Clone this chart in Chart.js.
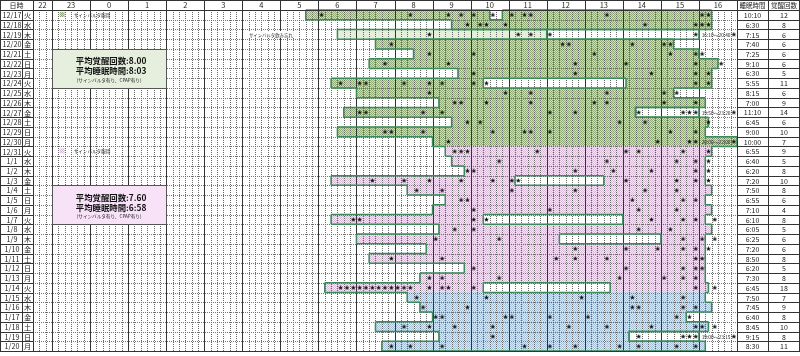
<!DOCTYPE html>
<html>
<head>
<meta charset="utf-8">
<script src="https://cdn.jsdelivr.net/npm/chart.js@4.4.0/dist/chart.umd.min.js"></script>
<style>
  html, body { margin: 0; padding: 0; background: #fff; }
  #wrap { width: 800px; height: 356px; position: relative; }
</style>
</head>
<body>
<div id="wrap"><canvas id="c"></canvas></div>
<script>
// rows
const days = ['12/17','12/18','12/19','12/20','12/21','12/22','12/23','12/24','12/25','12/26','12/27','12/28','12/29','12/30','12/31',
              '1/1','1/2','1/3','1/4','1/5','1/6','1/7','1/8','1/9','1/10','1/11','1/12','1/13','1/14','1/15','1/16','1/17','1/18','1/19','1/20'];
const weekdays = ['火','水','木','金','土','日','月','火','水','木','金','土','日','月','火',
                  '水','木','金','土','日','月','火','水','木','金','土','日','月','火','水','木','金','土','日','月'];
const sleepTimes = ['10:10','6:30','7:15','7:40','7:25','9:10','6:30','5:55','8:15','7:00','11:10','6:45','9:00','10:00','6:55',
                    '6:40','6:20','7:20','7:50','6:55','7:10','6:10','6:05','6:25','7:20','8:50','6:20','7:30','6:45','7:50','7:45','6:40','8:45','9:15','8:30'];
const wakeCounts = [12,8,6,6,6,6,5,11,6,9,14,6,10,7,9, 5,8,10,8,6,4,8,5,6,6,8,5,8,18,7,9,8,10,8,11];
// period of each row: 0 green, 1 pink, 2 blue
const rowPeriod = [0,0,0,0,0,0,0,0,0,0,0,0,0,0, 1,1,1,1,1,1,1,1,1,1,1,1,1,1,1, 2,2,2,2,2,2];

// time axis (hours, 22 -> 16)
const hourTicks = [22,23,0,1,2,3,4,5,6,7,8,9,10,11,12,13,14,15,16];

// sleep segments (first / second)
const sleepA = [['5:40','10:30'],['9:30','16:20'],null,['7:30','15:20'],['8:30','16:00'],['7:20','16:30'],['9:40','16:20'],['6:20','10:20'],
  ['7:00','15:20'],['9:10','16:10'],['6:40','14:20'],['9:30','16:15'],['6:30','16:10'],['9:00','17:00'],['9:20','16:20'],
  ['9:30','16:10'],['9:50','16:10'],['6:20','11:10'],['8:20','16:20'],['9:20','16:10'],['9:00','16:20'],['6:20','10:20'],['9:10','16:20'],
  ['7:00','12:20'],['8:50','16:10'],['7:20','16:10'],['9:50','16:10'],['8:40','16:10'],['6:10','10:20'],['8:20','16:10'],['8:40','16:20'],
  ['9:00','15:40'],['7:30','16:15'],['9:10','14:10'],['7:40','16:10']];
const sleepB = [['10:50','16:20'],null,null,null,null,null,null,['14:05','16:20'],null,null,null,null,null,null,null,
  null,null,['13:30','16:10'],null,null,null,['14:00','16:10'],null,['15:00','16:10'],null,null,null,null,['13:40','16:15'],null,null,
  null,null,null,null];
// light (dozing) segment and awake-in-bed boxes
const dozeSeg = days.map((d, i) => i === 2 ? ['6:30','12:00'] : null);
const awakeSeg = days.map((d, i) => ({2: ['12:00','16:00'], 10: ['14:20','16:00'], 33: ['14:10','16:00']})[i] || null);
// evening sleep written as text
const eveningNotes = {2: '16:10〜20:40', 10: '19:50〜23:20', 13: '20:00〜22:00', 33: '19:00〜23:15'};

// awakenings (stars)
const wakeMarks = [
  ['6:05','8:25','9:25','9:45','10:05','10:35','11:05','11:25','11:35','13:35','16:05','16:15'],
  ['9:55','10:15','10:25','10:55','14:35','15:55','16:05','16:15'],
  ['8:55','11:15','11:35','12:05','15:55','16:55'],
  ['7:55','12:25','12:35','14:15','15:05','15:15'],
  ['8:55','10:05','13:15','15:15','15:55','16:05'],
  ['7:45','9:25','12:45','14:05','15:55','16:35'],
  ['10:05','12:45','14:45','15:55','16:15'],
  ['6:35','7:05','7:15','8:15','8:55','9:15','10:05','10:25','15:55','16:15'],
  ['8:55','10:55','11:35','13:35','15:05','15:25'],
  ['9:35','9:45','10:25','11:35','13:15','13:35','15:05','15:55'],
  ['7:05','7:15','8:45','9:15','12:05','12:45','14:25','15:35','15:45','15:55','16:55'],
  ['9:55','10:15','13:55','14:35','16:15'],
  ['7:45','7:55','8:45','10:35','11:25','11:35','12:05','15:15','15:55'],
  ['9:25','14:55','15:45','15:55','16:55'],
  ['9:35','9:45','9:55','11:45','14:05','14:25','15:35','16:15'],
  ['10:45','13:35','15:25','15:55','16:15'],
  ['9:55','10:05','12:45','13:45','14:45','15:55','16:15'],
  ['7:25','8:15','8:55','9:45','10:35','11:05','11:15','14:05','15:25','15:55','16:15'],
  ['8:35','9:15','11:05','12:45','14:35','15:25'],
  ['9:45','9:55','14:15','15:35','15:55'],
  ['10:05','12:05','14:25','15:25'],
  ['6:55','7:05','10:05','10:25','14:45','15:35','15:55','16:25'],
  ['9:35','10:05','14:25','15:15'],
  ['9:05','10:45','15:35','16:05','16:25'],
  ['12:45','14:05','14:55','15:35','15:55','16:15'],
  ['7:55','9:15','12:15','12:45','13:35','15:55','16:05'],
  ['10:05','14:05','15:35','15:55','16:05'],
  ['8:55','9:15','10:45','13:55','15:05','15:35','15:55'],
  ['6:35','6:45','6:55','7:05','7:15','7:25','7:35','7:45','7:55','8:05','8:15','8:25','8:55','9:15','9:25','10:05','15:55','16:25'],
  ['8:35','10:25','12:55','14:15','15:35'],
  ['8:45','9:55','14:15','14:25','15:35','15:55'],
  ['9:05','9:15','10:55','11:05','12:05','13:05','15:25','15:45'],
  ['8:15','8:55','9:35','10:35','12:35','13:35','14:45','15:55','16:05','16:25'],
  ['10:35','14:25','15:35','15:45','15:55','16:55'],
  ['7:55','8:25','9:15','11:25','12:05','12:45','13:55','14:25','15:25','15:55']
];

// summary boxes
const summaries = [
  {rows: [4, 7], fill: '#e6efdd', lines: ['平均覚醒回数:8.00', '平均睡眠時間:8:03', '(サインバルタ有り、CPAP有り)']},
  {rows: [18, 21], fill: '#f8e2f8', lines: ['平均覚醒回数:7.60', '平均睡眠時間:6:58', '(サインバルタ有り、CPAP有り)']}
];

const FONT = '"Noto Sans CJK JP", "Noto Sans", sans-serif';
const toH = s => { const p = s.split(':'); return Number(p[0]) + Number(p[1]) / 60; };
const seg = s => s ? [toH(s[0]), toH(s[1])] : null;

const canvas = document.getElementById('c');
const ctx0 = canvas.getContext('2d');
function hatch(dark, light) {
  const t = document.createElement('canvas');
  t.width = 2; t.height = 2;
  const g = t.getContext('2d');
  g.fillStyle = light; g.fillRect(0, 0, 2, 2);
  g.fillStyle = dark; g.fillRect(0, 0, 1, 1); g.fillRect(1, 1, 1, 1);
  return ctx0.createPattern(t, 'repeat');
}
const periodFill = [hatch('#8faa76', '#d0e0be'), hatch('#d8bcd8', '#f5e6f5'), hatch('#a6c1d7', '#dce8f2')];
const rowFill = rowPeriod.map(p => periodFill[p]);

// star marker
const starImg = document.createElement('canvas');
starImg.width = 5; starImg.height = 5;
(function () {
  const g = starImg.getContext('2d');
  g.fillStyle = '#111';
  g.beginPath();
  for (let k = 0; k < 10; k++) {
    const r = k % 2 === 0 ? 2.6 : 1.1;
    const a = -Math.PI / 2 + k * Math.PI / 5;
    g.lineTo(2.5 + r * Math.cos(a), 2.6 + r * Math.sin(a));
  }
  g.closePath();
  g.fill();
})();

const starPoints = [];
wakeMarks.forEach((list, i) => list.forEach(s => starPoints.push({x: toH(s), y: days[i]})));

const OUTLINE = '#3a8a5a';

function rowBand(chart, i) {
  const a = chart.chartArea, h = (a.bottom - a.top) / days.length;
  return [a.top + i * h, a.top + (i + 1) * h];
}

const sleepLog = {
  id: 'sleepLog',
  beforeDatasetDraw(chart, args) {
    if (args.meta.type !== 'scatter') return;
    const {ctx, chartArea: a, scales: {x}} = chart;
    const px = t => x.getPixelForValue(t);
    ctx.save();
    // grid
    ctx.lineWidth = 1;
    ctx.strokeStyle = '#777';
    ctx.setLineDash([1, 1]);
    for (let i = 1; i < days.length; i++) {
      const yy = Math.round(rowBand(chart, i)[0]) + 0.5;
      ctx.beginPath(); ctx.moveTo(a.left, yy); ctx.lineTo(a.right, yy); ctx.stroke();
    }
    for (let k = 0; k <= 111; k++) {
      const t = x.min + k / 6;
      const xx = Math.round(px(t)) + 0.5;
      const isHour = Math.abs(t - Math.round(t)) < 1e-6;
      ctx.setLineDash(isHour ? [] : [1, 1]);
      ctx.strokeStyle = isHour ? '#333' : '#666';
      ctx.beginPath(); ctx.moveTo(xx, a.top); ctx.lineTo(xx, a.bottom); ctx.stroke();
    }
    ctx.setLineDash([]);
    // outline of the sleep area
    const cover = days.map((d, i) => [seg(sleepA[i]), seg(sleepB[i])].filter(Boolean));
    ctx.strokeStyle = OUTLINE;
    ctx.lineWidth = 1.5;
    ctx.beginPath();
    cover.forEach((list, i) => {
      const [t0, t1] = rowBand(chart, i);
      list.forEach(([s, e]) => {
        ctx.moveTo(px(s), t0); ctx.lineTo(px(s), t1);
        ctx.moveTo(px(e), t0); ctx.lineTo(px(e), t1);
      });
    });
    const inside = (list, v) => list.some(([s, e]) => v > s && v < e);
    for (let i = 0; i <= days.length; i++) {
      const prev = i > 0 ? cover[i - 1] : [];
      const cur = i < days.length ? cover[i] : [];
      const pts = [...new Set(prev.concat(cur).flat())].sort((p, q) => p - q);
      const yy = i < days.length ? rowBand(chart, i)[0] : rowBand(chart, i - 1)[1];
      for (let k = 0; k < pts.length - 1; k++) {
        const m = (pts[k] + pts[k + 1]) / 2;
        if (inside(prev, m) !== inside(cur, m)) {
          ctx.moveTo(px(pts[k]), yy); ctx.lineTo(px(pts[k + 1]), yy);
        }
      }
    }
    ctx.stroke();
    // doze / awake boxes
    [dozeSeg, awakeSeg].forEach(arr => arr.forEach((s, i) => {
      if (!s) return;
      const [t0, t1] = rowBand(chart, i);
      const v = seg(s);
      ctx.strokeRect(px(v[0]), t0, px(v[1]) - px(v[0]), t1 - t0);
    }));
    ctx.restore();
  },
  afterDraw(chart) {
    const {ctx, chartArea: a, scales: {x}} = chart;
    const px = t => x.getPixelForValue(t);
    const W = chart.width;
    const c1 = 22, c2 = a.left, r1 = 768;
    ctx.save();
    ctx.textAlign = 'center';
    ctx.textBaseline = 'middle';
    ctx.fillStyle = '#222';
    // header
    ctx.font = '7px ' + FONT;
    ctx.fillText('日時', c2 / 2, a.top / 2 + 0.5);
    ctx.font = '7.5px ' + FONT;
    hourTicks.forEach(h => {
      const v = h >= 22 ? h - 24 : h;
      const lo = Math.max(v, x.min), hi = Math.min(v + 1, x.max);
      ctx.fillText(String(h), px((lo + hi) / 2), a.top / 2 + 0.5);
    });
    ctx.font = '6.5px ' + FONT;
    ctx.fillText('睡眠時間', (a.right + r1) / 2, a.top / 2 + 0.5);
    ctx.fillText('覚醒回数', (r1 + W) / 2, a.top / 2 + 0.5);
    // rows
    days.forEach((d, i) => {
      const [t0, t1] = rowBand(chart, i);
      const cy = (t0 + t1) / 2 + 0.5;
      ctx.font = '7.2px ' + FONT;
      ctx.fillText(d, 12, cy);
      ctx.fillText(weekdays[i], (c1 + c2) / 2, cy);
      ctx.font = '7px ' + FONT;
      ctx.fillText(sleepTimes[i], (a.right + r1) / 2, cy);
      ctx.fillText(String(wakeCounts[i]), (r1 + W) / 2, cy);
    });
    // frame lines
    ctx.strokeStyle = '#333';
    ctx.lineWidth = 1;
    ctx.beginPath();
    for (let i = 0; i <= days.length; i++) {
      const yy = Math.round(i < days.length ? rowBand(chart, i)[0] : a.bottom) + 0.5;
      ctx.moveTo(0, yy); ctx.lineTo(c2, yy);
      ctx.moveTo(a.right, yy); ctx.lineTo(W, yy);
    }
    const hb = Math.round(a.top) + 0.5;
    ctx.moveTo(0, hb); ctx.lineTo(W, hb);
    const bb = Math.round(a.bottom) + 0.5;
    ctx.moveTo(0, bb); ctx.lineTo(W, bb);
    [0.5, c2 + 0.5, Math.round(a.right) + 0.5, r1 + 0.5, W - 0.5].forEach(xx => { ctx.moveTo(xx, 0); ctx.lineTo(xx, bb); });
    ctx.moveTo(c1 + 0.5, a.top); ctx.lineTo(c1 + 0.5, bb);
    hourTicks.forEach(h => {
      const v = h >= 22 ? h - 24 : h;
      if (v > x.min) { const xx = Math.round(px(v)) + 0.5; ctx.moveTo(xx, 0); ctx.lineTo(xx, a.top); }
    });
    ctx.moveTo(0, 0.5); ctx.lineTo(W, 0.5);
    ctx.stroke();

    // legend marks
    const legend = (i, fill, text) => {
      const [t0] = rowBand(chart, i);
      const lx = px(-0.8);
      ctx.fillStyle = fill;
      ctx.fillRect(lx, t0 + 2, 5, 5);
      ctx.fillStyle = '#222';
      ctx.textAlign = 'left';
      ctx.font = '4.6px ' + FONT;
      ctx.fillText(text, lx + 14, t0 + 5);
      ctx.textAlign = 'center';
    };
    legend(0, periodFill[0], 'サインバルタ服用');
    legend(14, periodFill[1], 'サインバルタ服用');
    // missed dose note
    {
      const [t0, t1] = rowBand(chart, 2);
      ctx.font = '4.4px ' + FONT;
      const w = ctx.measureText('サインバルタ飲み忘れ').width;
      ctx.fillStyle = '#fff';
      ctx.fillRect(px(4.75) - w / 2 - 1, t0 + 1.5, w + 2, t1 - t0 - 3);
      ctx.fillStyle = '#222';
      ctx.fillText('サインバルタ飲み忘れ', px(4.75), (t0 + t1) / 2 + 0.5);
    }
    // evening sleep notes
    ctx.font = '4.8px ' + FONT;
    Object.keys(eveningNotes).forEach(k => {
      const [t0, t1] = rowBand(chart, Number(k));
      ctx.fillStyle = '#222';
      ctx.fillText(eveningNotes[k], px(16.45), (t0 + t1) / 2 + 0.5);
    });
    // summary boxes
    summaries.forEach(sm => {
      const top = rowBand(chart, sm.rows[0])[0], bot = rowBand(chart, sm.rows[1])[1];
      const l = px(-1), r = px(2);
      ctx.fillStyle = sm.fill;
      ctx.fillRect(l, top, r - l, bot - top);
      ctx.strokeStyle = '#555';
      ctx.lineWidth = 1;
      ctx.strokeRect(Math.round(l) + 0.5, Math.round(top) + 0.5, Math.round(r - l), Math.round(bot - top));
      ctx.fillStyle = '#111';
      ctx.font = 'bold 8.4px ' + FONT;
      ctx.fillText(sm.lines[0], (l + r) / 2 + 2, top + 12);
      ctx.fillText(sm.lines[1], (l + r) / 2 + 2, top + 22);
      ctx.font = '4.6px ' + FONT;
      ctx.fillText(sm.lines[2], (l + r) / 2, top + 31);
    });
    ctx.restore();
  }
};

const barBase = {type: 'bar', indexAxis: 'y', grouped: false, categoryPercentage: 1, borderWidth: 0, order: 2};
new Chart(canvas, {
  data: {
    labels: days,
    datasets: [
      Object.assign({}, barBase, {label: 'sleep1', data: sleepA.map(seg), backgroundColor: rowFill, barPercentage: 1.04}),
      Object.assign({}, barBase, {label: 'sleep2', data: sleepB.map(seg), backgroundColor: rowFill, barPercentage: 1.04}),
      Object.assign({}, barBase, {label: 'doze', data: dozeSeg.map(seg), backgroundColor: '#e4efda', barPercentage: 1}),
      Object.assign({}, barBase, {label: 'awake', data: awakeSeg.map(seg), backgroundColor: '#ffffff', barPercentage: 1}),
      {type: 'scatter', label: 'wake', data: starPoints, pointStyle: starImg, pointRadius: 2.5, order: 0}
    ]
  },
  options: {
    responsive: true,
    maintainAspectRatio: false,
    animation: false,
    layout: {padding: {left: 33, right: 63, top: 10, bottom: 4}},
    plugins: {legend: {display: false}, tooltip: {enabled: false}},
    scales: {
      x: {type: 'linear', min: -1.5, max: 17, display: false},
      y: {type: 'category', labels: days, offset: true, display: false}
    }
  },
  plugins: [sleepLog]
});
</script>
</body>
</html>
